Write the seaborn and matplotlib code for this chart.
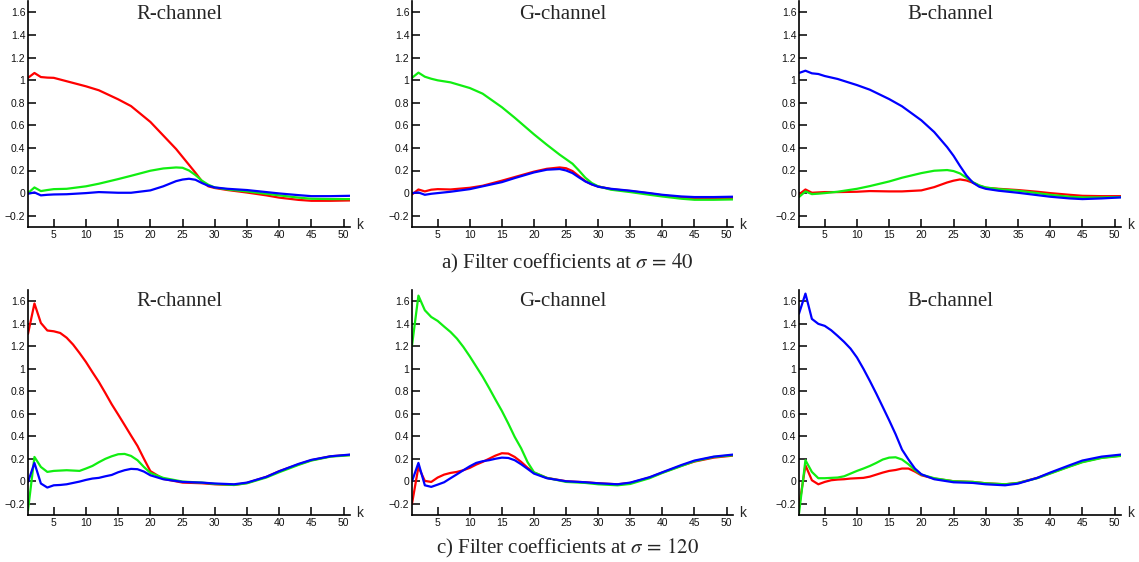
import numpy as np
import pandas as pd
import matplotlib
matplotlib.use("Agg")
import matplotlib.pyplot as plt
from matplotlib.ticker import FuncFormatter
import seaborn as sns

# ---------------- data ----------------
k_top = [1, 2, 3, 4, 5, 7, 10, 12, 15, 17, 20, 22, 24, 25, 26, 27, 28, 29, 30, 32, 35, 38, 40, 43, 45, 48, 51]
k_bot = [1, 2, 3, 4, 5, 6, 7, 8, 9, 10, 11, 12, 13, 14, 15, 16, 17, 18, 19, 20, 22, 25, 28, 30, 33, 35, 38, 40, 43, 45, 48, 51]

# sigma = 40, R-channel
a_R_red   = [1.02, 1.063, 1.027, 1.022, 1.02, 0.99, 0.945, 0.91, 0.83, 0.77, 0.63, 0.51, 0.39, 0.32, 0.25, 0.18, 0.105, 0.06, 0.045, 0.027, 0.005, -0.02, -0.04, -0.06, -0.068, -0.068, -0.065]
a_R_green = [0.0, 0.05, 0.018, 0.027, 0.035, 0.038, 0.06, 0.083, 0.124, 0.153, 0.198, 0.218, 0.227, 0.224, 0.2, 0.16, 0.11, 0.074, 0.05, 0.032, 0.015, -0.006, -0.02, -0.04, -0.05, -0.053, -0.053]
a_R_blue  = [-0.006, 0.006, -0.02, -0.015, -0.012, -0.01, 0.0, 0.009, 0.003, 0.003, 0.024, 0.06, 0.106, 0.12, 0.127, 0.118, 0.089, 0.065, 0.05, 0.038, 0.027, 0.009, -0.003, -0.018, -0.027, -0.027, -0.024]
# sigma = 40, G-channel
a_G_green = [1.02, 1.066, 1.03, 1.012, 0.998, 0.98, 0.93, 0.88, 0.76, 0.667, 0.52, 0.428, 0.34, 0.30, 0.26, 0.2, 0.136, 0.089, 0.06, 0.03, 0.009, -0.015, -0.03, -0.05, -0.059, -0.059, -0.056]
a_G_red   = [-0.012, 0.032, 0.015, 0.03, 0.035, 0.032, 0.047, 0.065, 0.11, 0.142, 0.19, 0.215, 0.227, 0.22, 0.195, 0.15, 0.106, 0.077, 0.059, 0.035, 0.018, -0.003, -0.02, -0.038, -0.047, -0.047, -0.044]
a_G_blue  = [0.0, 0.006, -0.015, -0.006, 0.0, 0.012, 0.035, 0.06, 0.097, 0.133, 0.183, 0.207, 0.213, 0.2, 0.177, 0.139, 0.103, 0.077, 0.056, 0.038, 0.021, 0.0, -0.015, -0.03, -0.035, -0.035, -0.032]
# sigma = 40, B-channel
a_B_blue  = [1.063, 1.083, 1.06, 1.054, 1.036, 1.01, 0.956, 0.915, 0.832, 0.768, 0.644, 0.54, 0.407, 0.33, 0.24, 0.156, 0.092, 0.056, 0.038, 0.021, 0.003, -0.018, -0.032, -0.047, -0.053, -0.047, -0.038]
a_B_green = [-0.035, 0.015, -0.009, -0.005, 0.0, 0.012, 0.038, 0.062, 0.103, 0.136, 0.177, 0.198, 0.204, 0.195, 0.174, 0.136, 0.097, 0.068, 0.05, 0.035, 0.021, 0.0, -0.015, -0.032, -0.038, -0.038, -0.035]
a_B_red   = [-0.012, 0.032, 0.003, 0.006, 0.009, 0.009, 0.012, 0.018, 0.015, 0.015, 0.024, 0.053, 0.094, 0.11, 0.121, 0.112, 0.092, 0.065, 0.047, 0.038, 0.027, 0.012, 0.0, -0.015, -0.024, -0.027, -0.027]

# sigma = 120, R-channel
c_R_red   = [1.31, 1.58, 1.407, 1.34, 1.333, 1.318, 1.276, 1.215, 1.14, 1.06, 0.97, 0.883, 0.785, 0.684, 0.593, 0.5, 0.406, 0.314, 0.2, 0.09, 0.021, -0.012, -0.018, -0.027, -0.033, -0.015, 0.039, 0.089, 0.15, 0.187, 0.222, 0.234]
c_R_green = [-0.258, 0.216, 0.127, 0.083, 0.092, 0.095, 0.098, 0.095, 0.092, 0.113, 0.136, 0.169, 0.199, 0.222, 0.24, 0.243, 0.225, 0.187, 0.127, 0.074, 0.03, -0.003, -0.012, -0.024, -0.033, -0.018, 0.033, 0.08, 0.145, 0.184, 0.219, 0.231]
c_R_blue  = [-0.006, 0.163, -0.02, -0.056, -0.036, -0.033, -0.027, -0.015, -0.003, 0.012, 0.024, 0.03, 0.044, 0.056, 0.08, 0.098, 0.11, 0.107, 0.086, 0.053, 0.018, -0.006, -0.012, -0.02, -0.027, -0.012, 0.039, 0.089, 0.154, 0.19, 0.222, 0.237]
# sigma = 120, G-channel
c_G_green = [1.206, 1.65, 1.52, 1.46, 1.425, 1.375, 1.327, 1.268, 1.194, 1.11, 1.02, 0.93, 0.83, 0.726, 0.625, 0.513, 0.394, 0.293, 0.17, 0.08, 0.03, -0.006, -0.015, -0.027, -0.036, -0.024, 0.027, 0.074, 0.136, 0.178, 0.216, 0.231]
c_G_red   = [-0.2, 0.127, 0.003, -0.006, 0.033, 0.059, 0.074, 0.083, 0.098, 0.119, 0.148, 0.172, 0.2, 0.228, 0.249, 0.246, 0.216, 0.172, 0.12, 0.077, 0.03, 0.0, -0.009, -0.018, -0.027, -0.015, 0.033, 0.077, 0.139, 0.175, 0.21, 0.228]
c_G_blue  = [0.0, 0.163, -0.036, -0.05, -0.03, -0.009, 0.027, 0.062, 0.098, 0.133, 0.163, 0.178, 0.187, 0.2, 0.21, 0.207, 0.187, 0.151, 0.11, 0.068, 0.027, 0.0, -0.009, -0.018, -0.027, -0.012, 0.036, 0.08, 0.145, 0.184, 0.219, 0.237]
# sigma = 120, B-channel
c_B_blue  = [1.49, 1.668, 1.443, 1.399, 1.381, 1.342, 1.292, 1.239, 1.179, 1.1, 1.0, 0.892, 0.779, 0.661, 0.542, 0.418, 0.281, 0.193, 0.113, 0.062, 0.018, -0.009, -0.015, -0.027, -0.036, -0.021, 0.03, 0.077, 0.142, 0.184, 0.219, 0.237]
c_B_green = [-0.287, 0.187, 0.083, 0.027, 0.027, 0.03, 0.033, 0.044, 0.068, 0.092, 0.113, 0.136, 0.163, 0.193, 0.21, 0.213, 0.193, 0.151, 0.098, 0.059, 0.027, 0.0, -0.006, -0.018, -0.027, -0.015, 0.027, 0.068, 0.13, 0.169, 0.207, 0.225]
c_B_red   = [-0.228, 0.142, 0.009, -0.027, -0.006, 0.009, 0.015, 0.018, 0.024, 0.027, 0.03, 0.041, 0.059, 0.077, 0.092, 0.1, 0.113, 0.113, 0.086, 0.053, 0.024, 0.0, -0.006, -0.018, -0.027, -0.015, 0.03, 0.071, 0.133, 0.172, 0.21, 0.228]

channel_titles = ["R-channel", "G-channel", "B-channel"]
captions = [r"a) Filter coefficients at $\sigma\,=\,40$", r"c) Filter coefficients at $\sigma\,=\,120$"]
y_ticks = [-0.2, 0, 0.2, 0.4, 0.6, 0.8, 1, 1.2, 1.4, 1.6]
x_ticks = [5, 10, 15, 20, 25, 30, 35, 40, 45, 50]

# ---------------- style ----------------
sns.set_theme(style="ticks")
plt.rcParams["font.family"] = ["Liberation Sans", "DejaVu Sans"]
plt.rcParams["mathtext.fontset"] = "stix"
plt.rcParams["axes.unicode_minus"] = True

COLORS = {"red": "#ff0000", "green": "#11ee11", "blue": "#0000ff"}

rows = [
    (k_top, [[("red", a_R_red), ("green", a_R_green), ("blue", a_R_blue)],
             [("red", a_G_red), ("green", a_G_green), ("blue", a_G_blue)],
             [("red", a_B_red), ("green", a_B_green), ("blue", a_B_blue)]]),
    (k_bot, [[("red", c_R_red), ("green", c_R_green), ("blue", c_R_blue)],
             [("red", c_G_red), ("green", c_G_green), ("blue", c_G_blue)],
             [("red", c_B_red), ("green", c_B_green), ("blue", c_B_blue)]]),
]

W, H = 1139, 562
fig = plt.figure(figsize=(W / 100, H / 100), dpi=100)

col_lr = [(28, 350), (412, 733), (799, 1121)]
row_tb = [(1, 227), (290, 515)]

def fmt(v, p):
    s = "%g" % round(v, 3)
    return s.replace("-", "\u2212")

for r, (kk, panels) in enumerate(rows):
    top, bot = row_tb[r]
    for c, series in enumerate(panels):
        l, rr = col_lr[c]
        ax = fig.add_axes([l / W, 1 - bot / H, (rr - l) / W, (bot - top) / H])
        for name, vals in series:
            df = pd.DataFrame({"k": kk, "v": vals})
            sns.lineplot(data=df, x="k", y="v", color=COLORS[name], lw=1.6, ax=ax)
        ax.set_xlim(1, 51)
        ax.set_ylim(-0.3, 1.7)
        ax.set_xticks(x_ticks)
        ax.set_yticks(y_ticks)
        ax.yaxis.set_major_formatter(FuncFormatter(fmt))
        ax.tick_params(direction="in", length=5.5, width=1.1, labelsize=7.5, pad=2, color="black", labelcolor="#111111")
        ax.set_xlabel("")
        ax.set_ylabel("")
        for s in ["top", "right"]:
            ax.spines[s].set_visible(False)
        for s in ["left", "bottom"]:
            ax.spines[s].set_linewidth(1.2)
            ax.spines[s].set_color("black")
        ax.text(0.47, 0.94 if r == 0 else 0.947, channel_titles[c], transform=ax.transAxes,
                ha="center", va="center", fontsize=15, family=["Liberation Serif", "DejaVu Serif"])
        ax.text(1.018, 0.01, "k", transform=ax.transAxes, ha="left", va="center", fontsize=10)

fig.text(567.5 / W, 1 - 263 / H, captions[0], ha="center", va="center", fontsize=15,
         family=["Liberation Serif", "DejaVu Serif"])
fig.text(568 / W, 1 - 548 / H, captions[1], ha="center", va="center", fontsize=15,
         family=["Liberation Serif", "DejaVu Serif"])

fig.savefig("out.png", dpi=100, facecolor="white")
